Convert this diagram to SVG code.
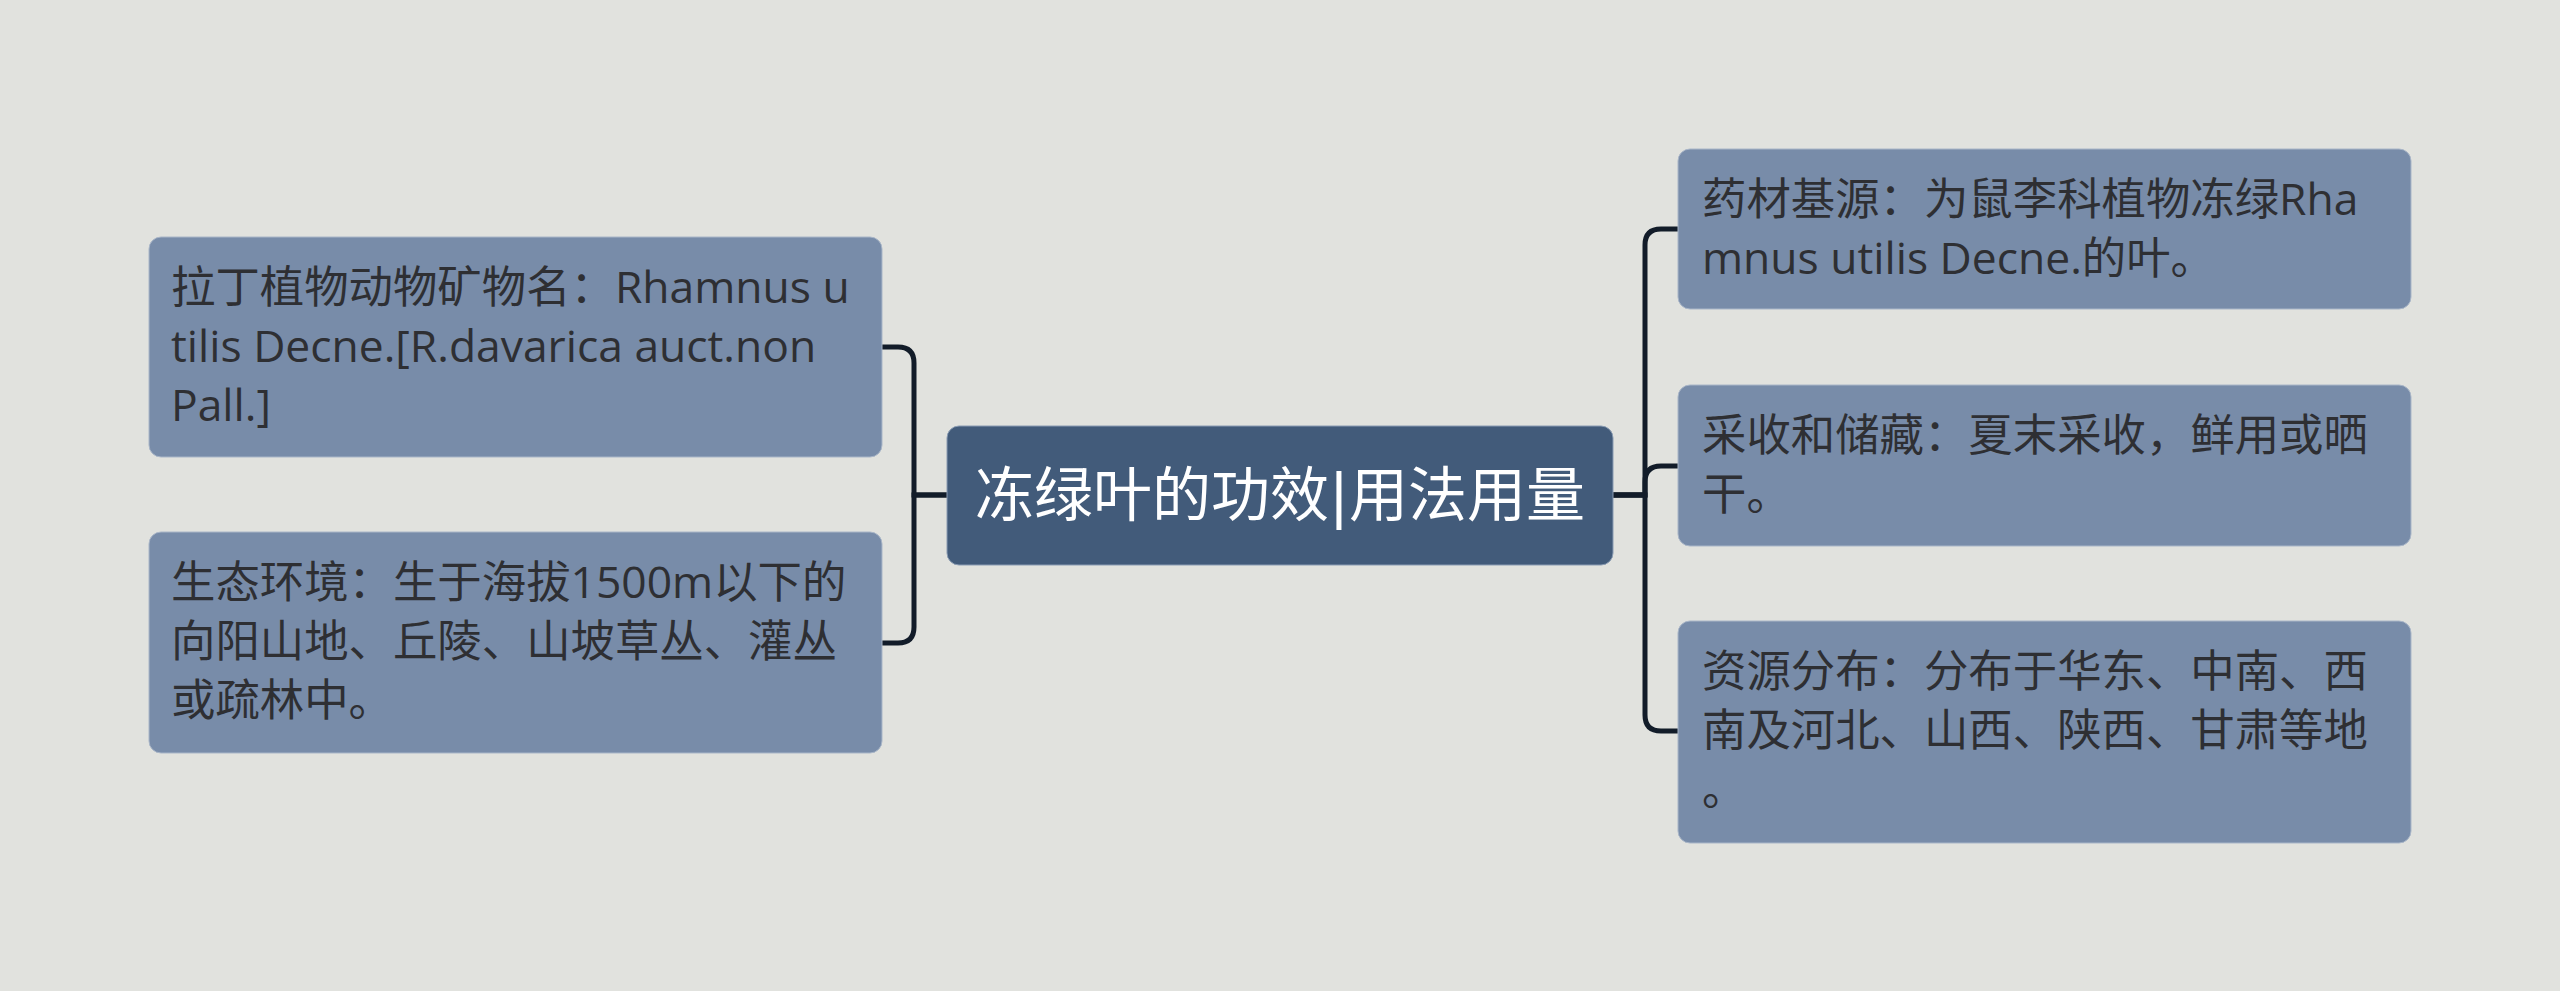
<svg xmlns="http://www.w3.org/2000/svg" width="2560" height="991" viewBox="0 0 2560 991">
<style>
.bg{fill:#e1e2de}
.child{fill:#788ca9;stroke:#a9b6c8;stroke-width:1}
.root{fill:#425b7a;stroke:#8a9cb3;stroke-width:1}
.t{font-family:"Open Sans","Noto Sans CJK SC",sans-serif;font-size:44.4px;fill:#2e2f33}
.rt{font-family:"Noto Sans CJK SC",sans-serif;font-size:59px;fill:#ffffff;text-anchor:middle}
.ln{fill:none;stroke:#121c29;stroke-width:5}
</style>
<rect class="bg" x="0" y="0" width="2560" height="991"/>
<g id="connectors">
<path class="ln" d="M947 495 H914 V363 Q914 347 898 347 H882"/>
<path class="ln" d="M947 495 H914 V627 Q914 643 898 643 H882"/>
<path class="ln" d="M1613 495 H1645 V245 Q1645 229 1661 229 H1678"/>
<path class="ln" d="M1613 495 H1645 V482 Q1645 466 1661 466 H1678"/>
<path class="ln" d="M1613 495 H1645 V715 Q1645 731 1661 731 H1678"/>
</g>
<g id="root">
<rect class="root" x="947" y="426" width="666" height="139" rx="12"/>
<text class="rt" x="1280" y="516">冻绿叶的功效<tspan font-family="DejaVu Sans">|</tspan>用法用量</text>
</g>
<g id="left1">
<rect class="child" x="149" y="237" width="733" height="220" rx="12"/>
<text class="t" x="171" y="303">拉丁植物动物矿物名：Rhamnus u</text>
<text class="t" x="171" y="362">tilis Decne.[R.davarica auct.non</text>
<text class="t" x="171" y="421">Pall.]</text>
</g>
<g id="left2">
<rect class="child" x="149" y="532" width="733" height="221" rx="12"/>
<text class="t" x="171" y="598">生态环境：生于海拔1500m以下的</text>
<text class="t" x="171" y="657">向阳山地、丘陵、山坡草丛、灌丛</text>
<text class="t" x="171" y="716">或疏林中。</text>
</g>
<g id="right1">
<rect class="child" x="1678" y="149" width="733" height="160" rx="12"/>
<text class="t" x="1702" y="215">药材基源：为鼠李科植物冻绿Rha</text>
<text class="t" x="1702" y="274">mnus utilis Decne.的叶。</text>
</g>
<g id="right2">
<rect class="child" x="1678" y="385" width="733" height="161" rx="12"/>
<text class="t" x="1702" y="451">采收和储藏：夏末采收，鲜用或晒</text>
<text class="t" x="1702" y="510">干。</text>
</g>
<g id="right3">
<rect class="child" x="1678" y="621" width="733" height="222" rx="12"/>
<text class="t" x="1702" y="687">资源分布：分布于华东、中南、西</text>
<text class="t" x="1702" y="746">南及河北、山西、陕西、甘肃等地</text>
<text class="t" x="1702" y="805">。</text>
</g>
</svg>
